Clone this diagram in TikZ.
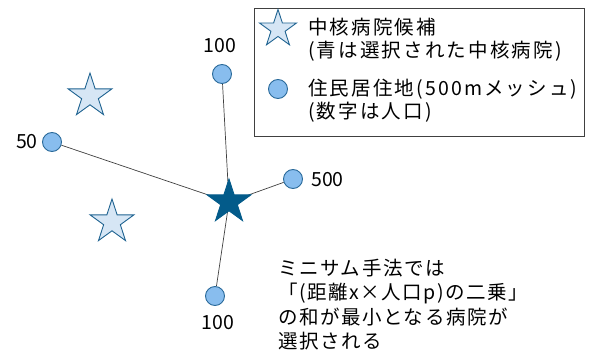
\documentclass[tikz,border=0pt]{standalone}
\usepackage{fontspec}
\setmainfont{Noto Sans CJK JP}
\newfontfamily\spaced[LetterSpace=8]{Noto Sans CJK JP}
\newfontfamily\wspaced[LetterSpace=11]{Noto Sans CJK JP}
\usetikzlibrary{shapes.geometric,backgrounds}
\definecolor{candfill}{HTML}{D6E6F5}
\definecolor{candline}{HTML}{1F6391}
\definecolor{selfill}{HTML}{035B8A}
\definecolor{resfill}{HTML}{88BDEE}
\definecolor{resline}{HTML}{2A6A9A}
\definecolor{linkcol}{HTML}{404040}
\tikzset{
  cand/.style={star, star points=5, star point ratio=2.618, draw=candline, fill=candfill, line width=0.9pt, minimum size=46pt, inner sep=0pt},
  sel/.style={star, star points=5, star point ratio=2.618, draw=selfill, fill=selfill, line width=0.9pt, minimum size=46pt, inner sep=0pt},
  res/.style={circle, draw=resline, fill=resfill, line width=0.9pt, minimum size=19pt, inner sep=0pt},
  link/.style={draw=linkcol, line width=0.7pt},
  lbl/.style={font=\fontsize{19.5}{22}\selectfont, text=black, inner sep=0pt},
  txt/.style={font=\wspaced\fontsize{19.5}{22.5}\selectfont, text=black, inner sep=0pt, align=left, anchor=north west}
}
\begin{document}
\begin{tikzpicture}[x=1pt,y=-1pt]
\useasboundingbox (0,0) rectangle (592,356);
% legend
\node[draw=linkcol, line width=1pt, minimum width=330pt, minimum height=128pt, anchor=north west, inner sep=0pt] (legend) at (254,8) {};
\node[cand, minimum size=39pt] (lstar) at (278,29) {};
\node[txt] (ltext1) at (308,18) {中核病院候補\\(青は選択された中核病院)};
\node[res] (lres) at (278,89) {};
\node[txt] (ltext2) at (308,79) {住民居住地(500mメッシュ)\\(数字は人口)};
% hospitals
\node[cand] (c1) at (90,96) {};
\node[cand] (c2) at (112,222) {};
\node[sel] (s) at (229,202) {};
% residences
\node[res] (r1) at (222,74) {};
\node[res] (r2) at (52,142) {};
\node[res] (r3) at (293,179) {};
\node[res] (r4) at (215,296) {};
\node[lbl] (n1) at (220,46) {100};
\node[lbl, anchor=east] (n2) at (38,142) {50};
\node[lbl, anchor=west] (n3) at (311,180) {500};
\node[lbl] (n4) at (218,323) {100};
% links
\begin{scope}[on background layer]
\draw[link] (r1) -- (s.center);
\draw[link] (r2) -- (s.center);
\draw[link] (r3) -- (s.center);
\draw[link] (r4) -- (s.center);
\end{scope}
% note
\node[txt, font=\spaced\fontsize{19.5}{24.3}\selectfont] (note) at (278,259) {ミニサム手法では\\「(距離x×人口p)の二乗」\\の和が最小となる病院が\\選択される};
\end{tikzpicture}
\end{document}
